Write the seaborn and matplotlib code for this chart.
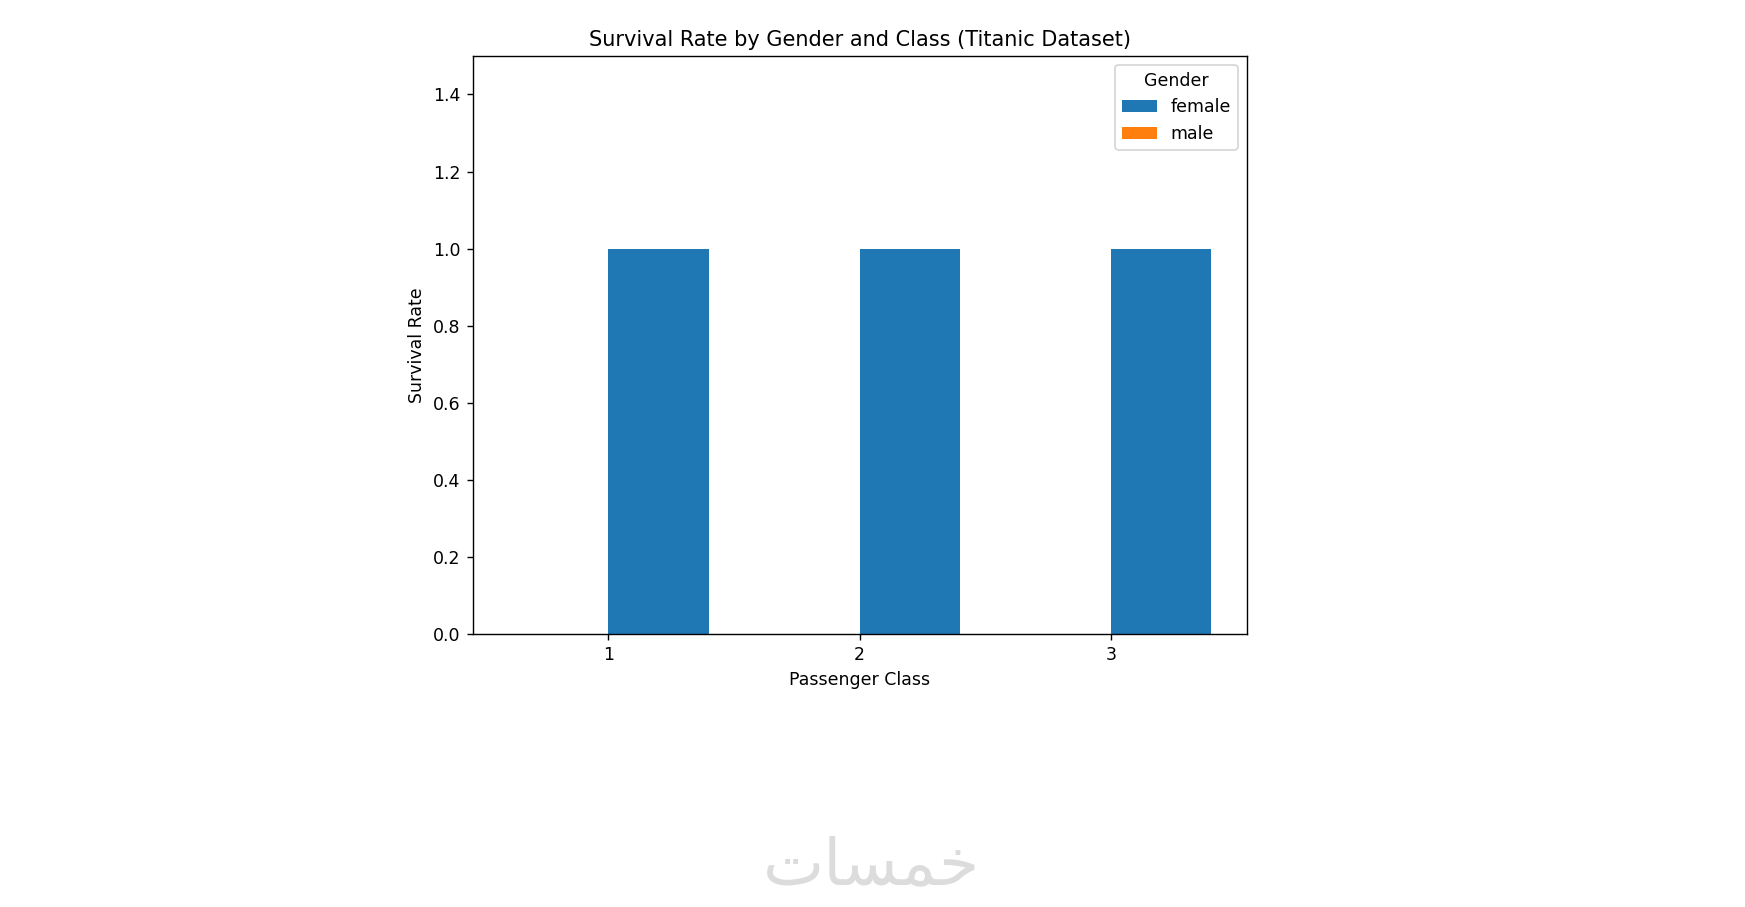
import matplotlib
matplotlib.use("Agg")
import matplotlib.pyplot as plt
import seaborn as sns
import pandas as pd

# values
pclass = [1, 2, 3]
female_rate = [1.0, 1.0, 1.0]
male_rate = [0.0, 0.0, 0.0]

df = pd.DataFrame({
    "pclass": pclass * 2,
    "sex": ["female"] * 3 + ["male"] * 3,
    "survived": female_rate + male_rate,
})

dpi = 125
fig = plt.figure(figsize=(1745 / dpi, 907 / dpi), dpi=dpi)
ax = fig.add_axes([0.2709, 0.3010, 0.4435, 0.6373])

palette = {"female": "#1f77b4", "male": "#ff7f0e"}
sns.barplot(data=df, x="pclass", y="survived", hue="sex",
            hue_order=["male", "female"], palette=palette,
            native_scale=True, saturation=1, errorbar=None, ax=ax)

ax.set_xticks(pclass)
ax.set_xticklabels([str(c) for c in pclass])
ax.set_ylim(0, 1.5)
ax.set_title("Survival Rate by Gender and Class (Titanic Dataset)")
ax.set_xlabel("Passenger Class")
ax.set_ylabel("Survival Rate")

handles, labels = ax.get_legend_handles_labels()
order = [labels.index("female"), labels.index("male")]
ax.legend([handles[i] for i in order], [labels[i] for i in order],
          title="Gender", loc="upper right")

# site watermark under the chart
fig.text(0.4997, 0.045, "\uFE95\uFE8E\uFEB4\uFEE4\uFEA7", ha="center", va="center",
         fontsize=37.5, color="#dcdcdc", family="DejaVu Sans")

fig.savefig("out.png", dpi=dpi)
